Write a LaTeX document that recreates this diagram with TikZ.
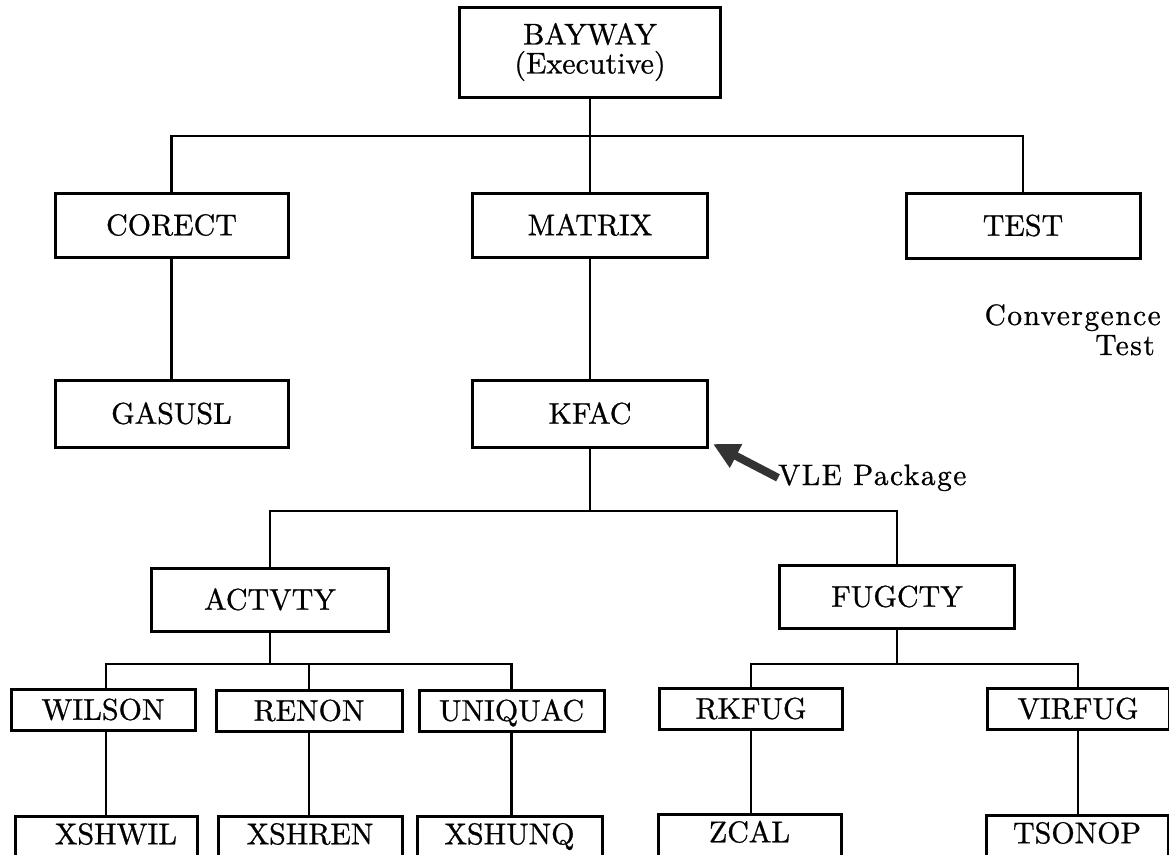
\documentclass[tikz,border=0pt]{standalone}
\usepackage{fontspec}
\setmainfont{lmroman10-regular.otf}[FakeBold=0.8]
\usetikzlibrary{arrows.meta}
\newcommand\dfont{\fontsize{30}{30}\selectfont}
\newcommand\sfont{\fontsize{29.5}{30}\selectfont\addfontfeatures{LetterSpace=5}}
\tikzset{
  box/.style={draw, line width=3pt, inner sep=0pt, font=\dfont, text height=20.5pt, text depth=0pt},
  lowbox/.style={box, text depth=10pt, minimum height=46pt},
  midbox/.style={box, minimum height=41pt},
  link/.style={line width=2.4pt},
  bigarrow/.style={line width=8pt, black!80, -{Triangle[length=26pt,width=25pt]}}
}
\begin{document}
\begin{tikzpicture}[x=1pt,y=-1pt]
\useasboundingbox (0,0) rectangle (1169,854);
\clip (0,0) rectangle (1169,854);

% top level
\node[draw, line width=3pt, inner sep=0pt, font=\fontsize{30}{29}\selectfont, align=center,
      minimum width=261pt, minimum height=90pt] (BAYWAY) at (590,52) {BAYWAY\\(Executive)};

% second level
\node[box, minimum width=233pt, minimum height=64pt] (CORECT) at (171.5,225) {CORECT};
\node[box, minimum width=235pt, minimum height=64pt] (MATRIX) at (590,225) {MATRIX};
\node[box, minimum width=234pt, minimum height=65pt] (TEST) at (1023,225.5) {TEST};

% third level
\node[box, minimum width=233pt, minimum height=67pt] (GASUSL) at (171.5,413.5) {GASUSL};
\node[box, minimum width=235pt, minimum height=67pt] (KFAC) at (590,413.5) {KFAC};

% fourth level
\node[box, minimum width=237pt, minimum height=63pt] (ACTVTY) at (270,599.5) {ACTVTY};
\node[box, minimum width=235pt, minimum height=63pt] (FUGCTY) at (897,596.5) {FUGCTY};

% fifth level
\node[midbox, minimum width=184pt] (WILSON) at (103,709.5) {WILSON};
\node[midbox, minimum width=186pt] (RENON) at (309,710.5) {RENON};
\node[midbox, minimum width=185pt] (UNIQUAC) at (511.5,710.5) {UNIQUAC};
\node[midbox, minimum width=183pt] (RKFUG) at (751,708.5) {RKFUG};
\node[midbox, minimum width=182pt] (VIRFUG) at (1078,708.5) {VIRFUG};

% bottom level (cut by the page edge)
\node[lowbox, minimum width=182pt] (XSHWIL) at (106,839) {\hspace*{20pt}XSHWIL};
\node[lowbox, minimum width=184pt] (XSHREN) at (310,839) {XSHREN};
\node[lowbox, minimum width=185pt] (XSHUNQ) at (509.5,839) {XSHUNQ};
\node[lowbox, minimum width=183pt] (ZCAL) at (749.5,837) {ZCAL};
\node[lowbox, minimum width=182pt] (TSONOP) at (1077,838) {TSONOP};

% annotations
\node[font=\sfont, align=right, anchor=north east, inner sep=0pt] (conv) at (1161,304)
  {Convergence\\Test\hspace*{6pt}};
\node[font=\sfont, anchor=base west, inner sep=0pt] (vle) at (778,485) {VLE Package};
\coordinate (tip) at (713,444);
\draw[bigarrow] (vle.west) -- (tip);

% connectors
\coordinate (barA) at (0,136);
\coordinate (barB) at (0,511);
\coordinate (barC) at (0,664);
\coordinate (barD) at (0,664);

\draw[link] (BAYWAY.south) -- (MATRIX.north);
\draw[link] (CORECT.north) -- (CORECT.north |- barA) -- (TEST.north |- barA) -- (TEST.north);
\draw[link] (CORECT.south) -- (GASUSL.north);
\draw[link] (MATRIX.south) -- (KFAC.north);

\draw[link] (KFAC.south) -- (KFAC.south |- barB);
\draw[link] (ACTVTY.north) -- (ACTVTY.north |- barB) -- (FUGCTY.north |- barB) -- (FUGCTY.north);

\draw[link] (ACTVTY.south) -- (ACTVTY.south |- barC);
\draw[link] ([xshift=3pt]WILSON.north) -- ([xshift=3pt]WILSON.north |- barC) -- (UNIQUAC.north |- barC) -- (UNIQUAC.north);
\draw[link] (RENON.north) -- (RENON.north |- barC);

\draw[link] (FUGCTY.south) -- (FUGCTY.south |- barD);
\draw[link] (RKFUG.north) -- (RKFUG.north |- barD) -- (VIRFUG.north |- barD) -- (VIRFUG.north);

\draw[link] ([xshift=3pt]WILSON.south) -- ([xshift=3pt]WILSON.south |- XSHWIL.north);
\draw[link] (RENON.south) -- (RENON.south |- XSHREN.north);
\draw[link] (UNIQUAC.south) -- (UNIQUAC.south |- XSHUNQ.north);
\draw[link] (RKFUG.south) -- (RKFUG.south |- ZCAL.north);
\draw[link] (VIRFUG.south) -- (VIRFUG.south |- TSONOP.north);
\end{tikzpicture}
\end{document}
